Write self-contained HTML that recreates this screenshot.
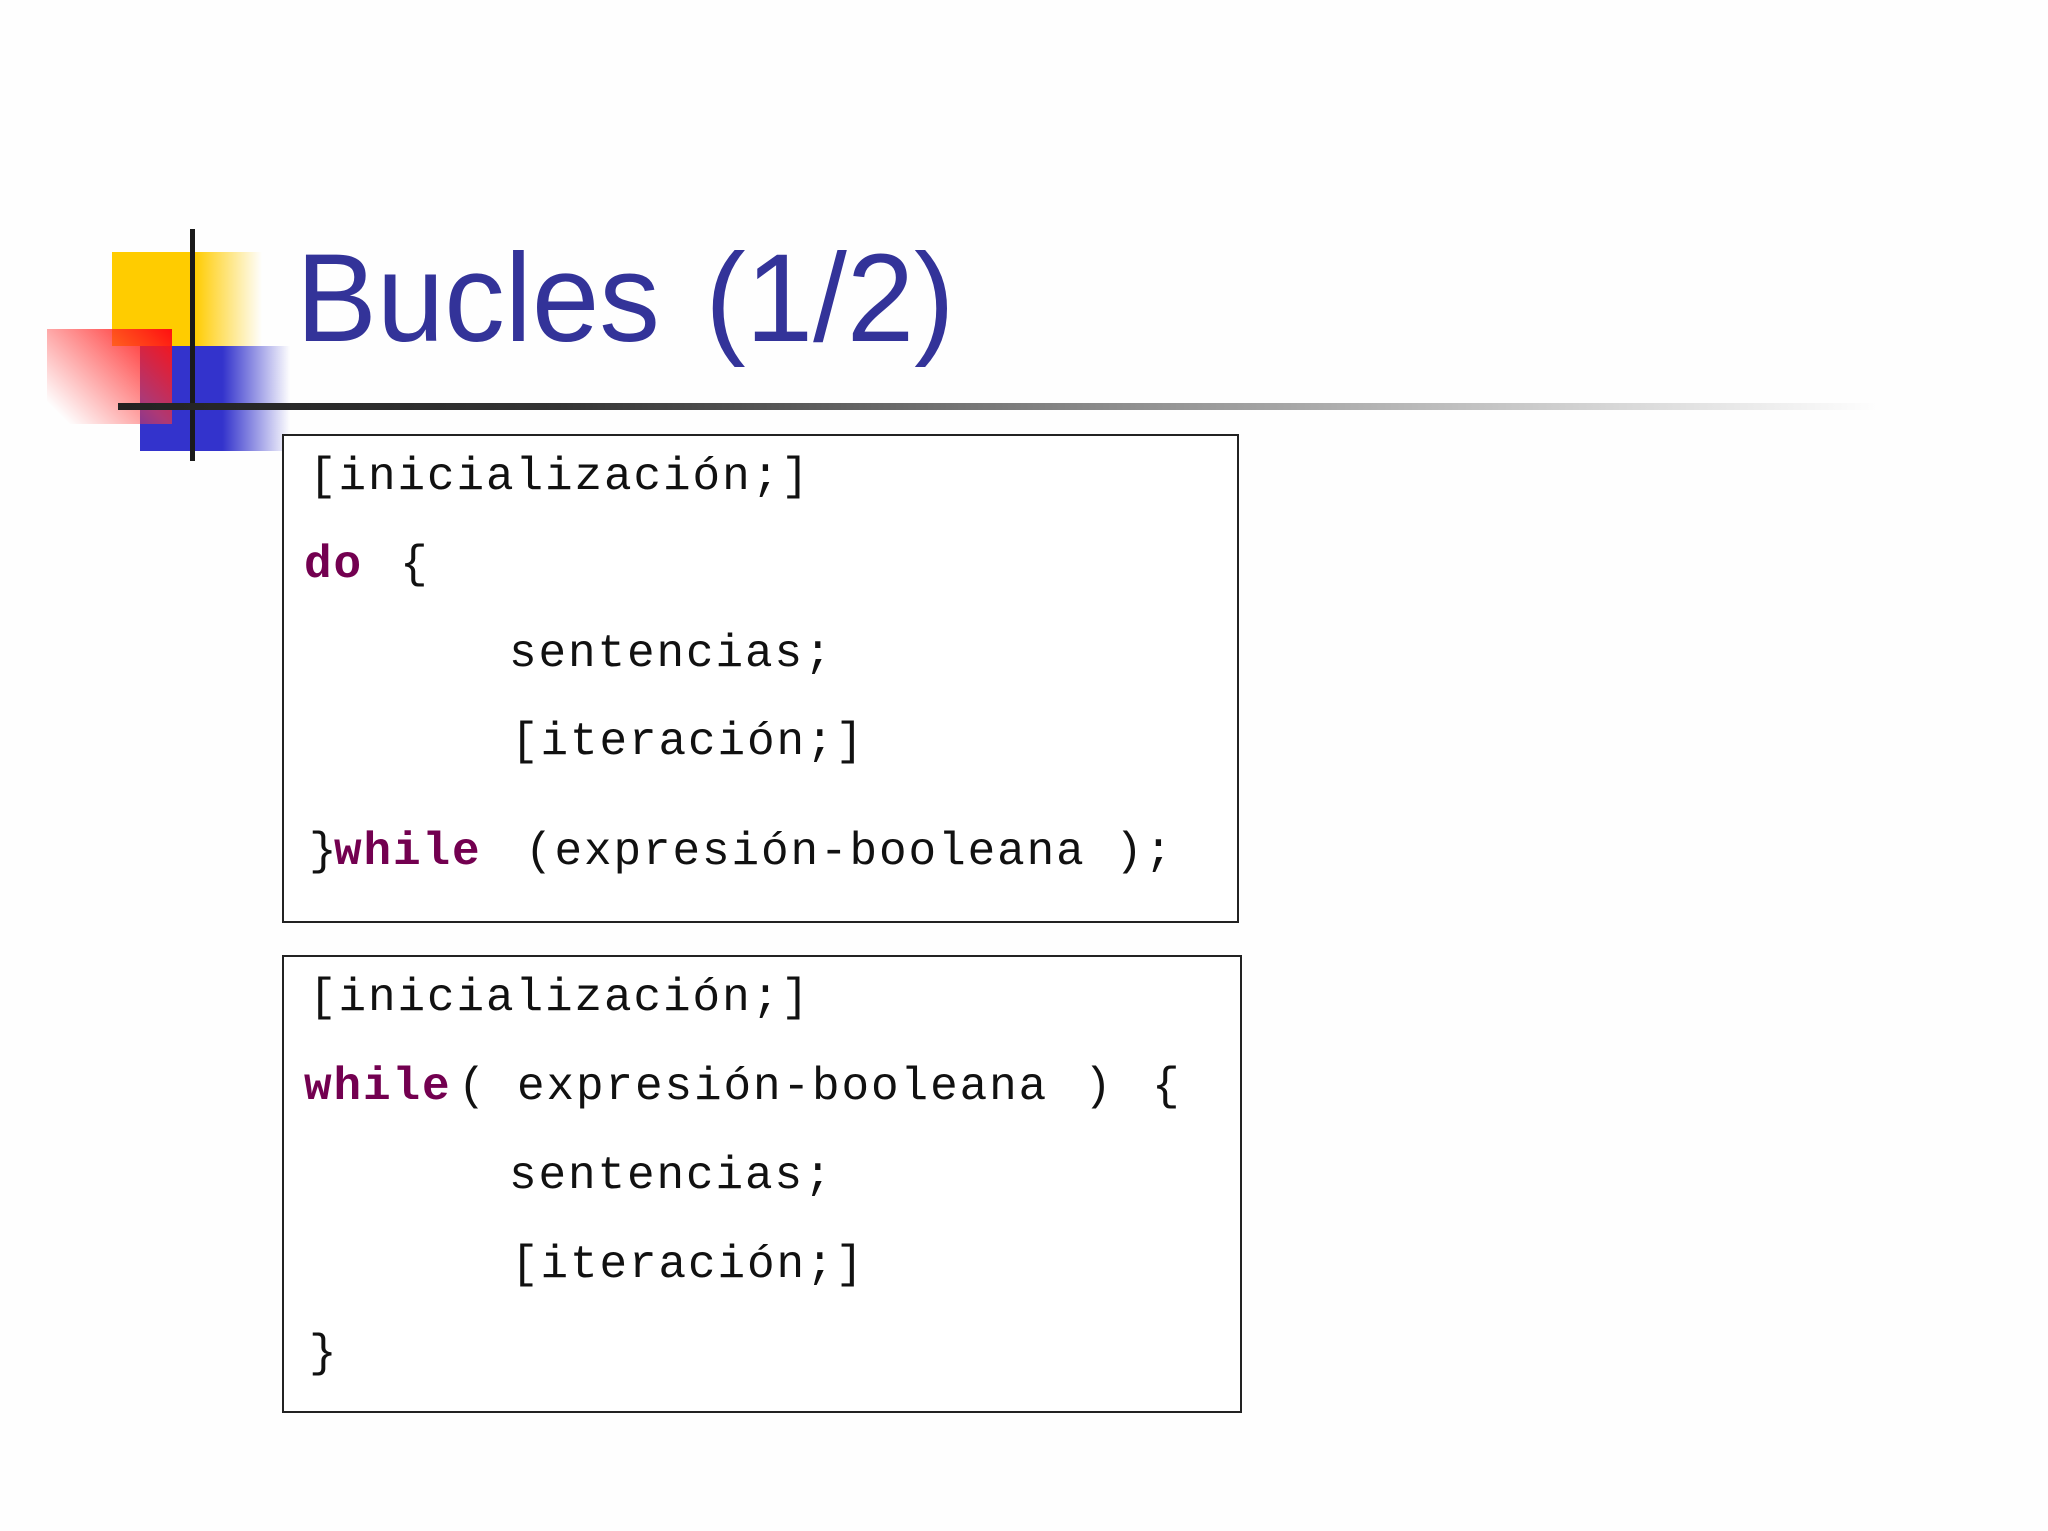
<!DOCTYPE html>
<html><head><meta charset="utf-8"><style>
body{margin:0;width:2048px;height:1531px;background:#fefefe;position:relative;overflow:hidden}
.a{position:absolute}
.t{font-family:"Liberation Mono",monospace;font-size:46px;color:#111;white-space:pre;line-height:1;letter-spacing:1.9px}
.k{font-weight:bold;color:#730050}
.box{position:absolute;border:2px solid #222;box-sizing:border-box;background:#fff}
</style></head><body>
<div class="a" style="left:112px;top:252px;width:150px;height:94px;background:linear-gradient(90deg,#ffcc00 0,#ffcc00 55%,rgba(255,204,0,0) 100%)"></div>
<div class="a" style="left:140px;top:346px;width:150px;height:105px;background:linear-gradient(90deg,#3333cc 0,#3333cc 55%,rgba(51,51,204,0) 100%)"></div>
<div class="a" style="left:47px;top:329px;width:125px;height:95px;background:linear-gradient(45deg,rgba(255,0,0,0) 10%,rgba(255,60,60,.6) 55%,#ff1010 100%)"></div>
<div class="a" style="left:190px;top:229px;width:5px;height:232px;background:#1a1a1a"></div>
<div class="a" style="left:118px;top:403px;width:1760px;height:7px;background:linear-gradient(90deg,#222 0,#333 25%,#888 55%,rgba(200,200,200,0) 100%)"></div>
<div class="a" style="left:296px;top:236px;font-family:'Liberation Sans',sans-serif;font-size:125px;color:#333399;line-height:1;transform:scaleX(0.97);transform-origin:left top;white-space:nowrap;word-spacing:12px">Bucles (1/2)</div>

<div class="box" style="left:282px;top:434px;width:957px;height:489px"></div>
<div class="box" style="left:282px;top:955px;width:960px;height:458px"></div>

<div class="a t" style="left:309px;top:454px">[inicialización;]</div>
<div class="a t k" style="left:304px;top:542px">do</div><div class="a t" style="left:400px;top:542px">{</div>
<div class="a t" style="left:509px;top:631px">sentencias;</div>
<div class="a t" style="left:511px;top:719px">[iteración;]</div>
<div class="a t" style="left:309px;top:829px">}</div><div class="a t k" style="left:334px;top:829px">while</div><div class="a t" style="left:525px;top:829px">(expresión-booleana );</div>

<div class="a t" style="left:309px;top:975px">[inicialización;]</div>
<div class="a t k" style="left:304px;top:1064px">while</div><div class="a t" style="left:458px;top:1064px">(</div><div class="a t" style="left:517px;top:1064px">expresión-booleana</div><div class="a t" style="left:1084px;top:1064px">)</div><div class="a t" style="left:1152px;top:1064px">{</div>
<div class="a t" style="left:509px;top:1153px">sentencias;</div>
<div class="a t" style="left:511px;top:1242px">[iteración;]</div>
<div class="a t" style="left:309px;top:1331px">}</div>
</body></html>
